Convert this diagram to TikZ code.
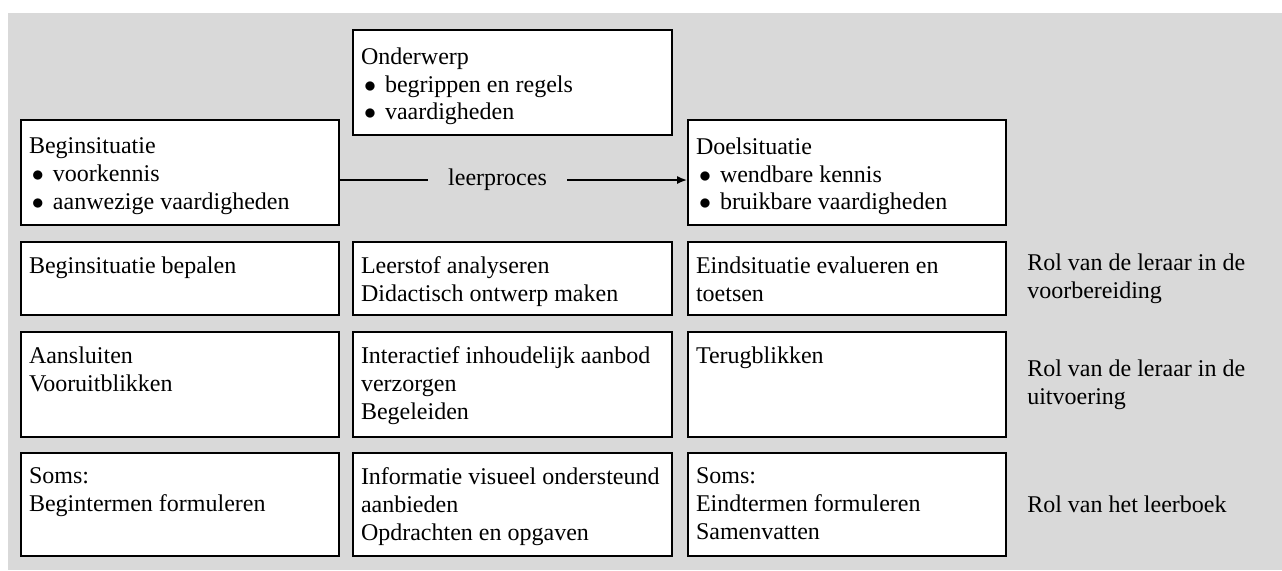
\documentclass[tikz,border=0pt]{standalone}
\usepackage{fontspec}
\setmainfont{Liberation Serif}
\usepackage{tikz}
\usetikzlibrary{arrows.meta,calc,positioning}
\definecolor{panelgray}{HTML}{D9D9D9}
\newcommand{\celltext}[4]{\parbox[t][#1][t]{#2}{\vspace*{#3}#4}}
\newcommand{\itm}{\hspace*{1.5pt}\makebox[10.5pt][l]{$\bullet$}}

\begin{document}
\begin{tikzpicture}[x=0.5pt,y=-0.5pt,>={Latex[length=5pt,width=4pt]},
    font=\fontsize{12}{13.8}\selectfont,
    cell/.style={draw=black,fill=white,line width=0.9pt,inner xsep=4pt,inner ysep=0pt},
    rolelabel/.style={anchor=west,align=left,inner sep=0pt}]
  \useasboundingbox (0,0) rectangle (1282,570);
  \fill[panelgray] (8,13) rectangle (1282,570);
  % top: onderwerp, begin- en doelsituatie
  \node[cell] (onderwerp) at (512.5,82.5) {\celltext{52.5pt}{151.5pt}{9pt}{Onderwerp\\\itm begrippen en regels\\\itm vaardigheden}};
  \node[cell] (beginsit) at (180,172.5) {\celltext{52.5pt}{151pt}{9pt}{Beginsituatie\\\itm voorkennis\\\itm aanwezige vaardigheden}};
  \node[cell] (doelsit) at (847,172.5) {\celltext{52.5pt}{151pt}{9pt}{Doelsituatie\\\itm wendbare kennis\\\itm bruikbare vaardigheden}};
  \draw[->,line width=0.8pt] ([yshift=-3.75pt]beginsit.east) -- node[pos=0.454,fill=panelgray,inner xsep=10pt,inner ysep=2pt] (proces) {leerproces} ([yshift=-3.75pt]doelsit.west);
  % voorbereiding
  \node[cell] (prep1) at (180,278.5) {\celltext{36.5pt}{151pt}{7.5pt}{Beginsituatie bepalen}};
  \node[cell] (prep2) at (512.5,278.5) {\celltext{36.5pt}{151.5pt}{7.5pt}{Leerstof analyseren\\Didactisch ontwerp maken}};
  \node[cell] (prep3) at (847,278.5) {\celltext{36.5pt}{151pt}{7.5pt}{Eindsituatie evalueren en\\toetsen}};
  % uitvoering
  \node[cell] (uitv1) at (180,384.5) {\celltext{52.5pt}{151pt}{7.5pt}{Aansluiten\\Vooruitblikken}};
  \node[cell] (uitv2) at (512.5,384.5) {\celltext{52.5pt}{151.5pt}{7.5pt}{Interactief inhoudelijk aanbod\\verzorgen\\Begeleiden}};
  \node[cell] (uitv3) at (847,384.5) {\celltext{52.5pt}{151pt}{7.5pt}{Terugblikken}};
  % leerboek
  \node[cell] (boek1) at (180,504.5) {\celltext{51.5pt}{151pt}{7.5pt}{Soms:\\Begintermen formuleren}};
  \node[cell] (boek2) at (512.5,504.5) {\celltext{51.5pt}{151.5pt}{7.5pt}{Informatie visueel ondersteund\\aanbieden\\Opdrachten en opgaven}};
  \node[cell] (boek3) at (847,504.5) {\celltext{51.5pt}{151pt}{7.5pt}{Soms:\\Eindtermen formuleren\\Samenvatten}};
  \foreach \row/\txt in {prep3/{Rol van de leraar in de\\voorbereiding},uitv3/{Rol van de leraar in de\\uitvoering},boek3/{Rol van het leerboek}} {
    \node[rolelabel] (rol-\row) at ([xshift=10pt]\row.east) {\txt};
  }
\end{tikzpicture}
\end{document}
